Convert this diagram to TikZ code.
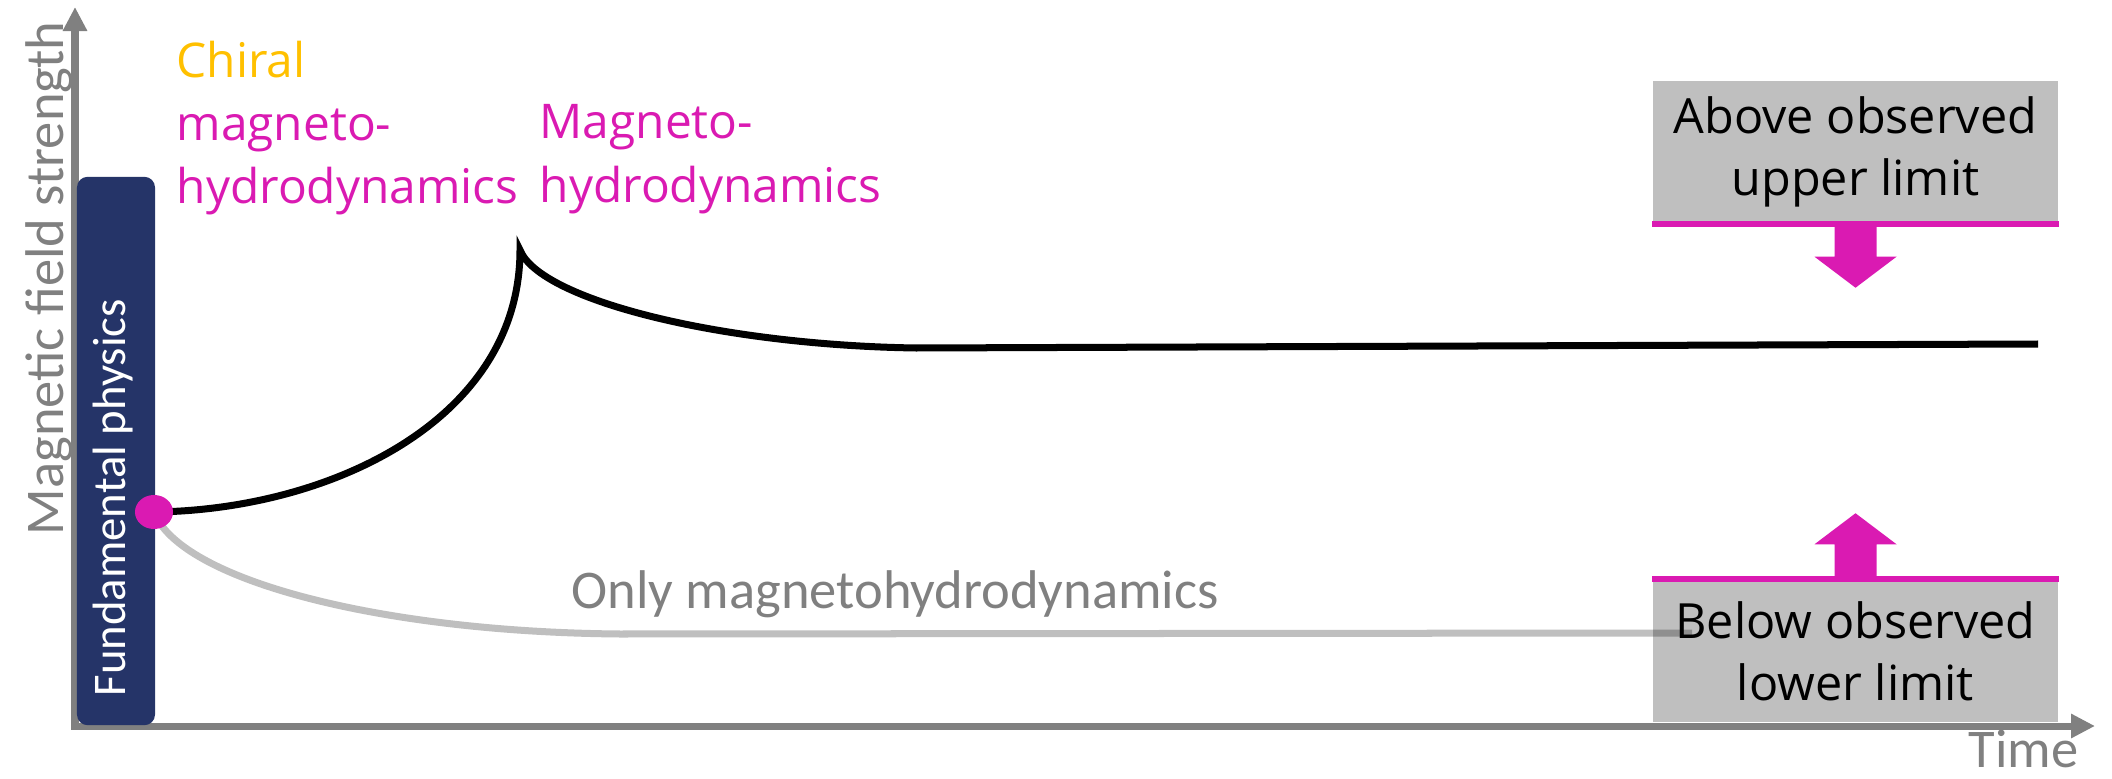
\documentclass[tikz,border=0pt]{standalone}
\usepackage{fontspec}
\setmainfont{Open Sans}
\newfontfamily\calfont{Carlito}
\usetikzlibrary{arrows.meta, shapes.geometric, positioning}
\definecolor{axisgray}{RGB}{128, 128, 128}
\definecolor{fundnavy}{RGB}{37, 52, 104}
\definecolor{mhdpink}{RGB}{218, 26, 178}
\definecolor{chiralgold}{RGB}{255, 192, 0}
\definecolor{limitgray}{RGB}{191, 191, 191}
\tikzset{
  axx/.style       = {line width=0.07cm, axisgray, line join=miter,
                      {Triangle[length=0.24cm, width=0.23cm]}-{Triangle[length=0.24cm, width=0.23cm]}},
  fieldline/.style = {line width=0.07cm, black},
  mhdonly/.style   = {line width=0.07cm, draw=black, draw opacity=0.25},
  limbox/.style    = {rectangle, fill=limitgray, minimum width=4.05cm, minimum height=1.42cm,
                      inner sep=0pt, align=center, font=\fontsize{13.8}{17.6}\selectfont},
  limbar/.style    = {line width=0.06cm, mhdpink},
  limarrow/.style  = {fill=mhdpink},
  phaselbl/.style  = {inner sep=0pt, align=left, text=mhdpink, font=\fontsize{13.6}{18}\selectfont},
  graylbl/.style   = {inner sep=0pt, text=axisgray, font=\calfont\fontsize{15.5}{18}\selectfont},
}

\begin{document}
\begin{tikzpicture}[
    x=0.01cm, y=-0.01cm,
    fund box/.style={rectangle, rounded corners=3pt, fill=fundnavy,
                     minimum width=0.78cm, minimum height=5.48cm, inner sep=0pt},
    fund text/.style={inner sep=0pt, text=white, rotate=90,
                      font=\calfont\fontsize{13.3}{16}\selectfont},
    seed dot/.style={ellipse, fill=mhdpink, minimum width=0.38cm,
                     minimum height=0.34cm, inner sep=0pt},
]
\useasboundingbox (0,0) rectangle (2112,779);

% ==================== axes ====================
\coordinate (O)    at (75, 726);
\coordinate (ytip) at (75, 7);
\coordinate (xtip) at (2095, 726);
\draw[axx] (ytip) -- (O) -- (xtip);

\node[graylbl, rotate=90, anchor=base west] (ylbl) at (63, 536) {Magnetic field strength};
\node[graylbl, anchor=base west] (xlbl) at (1968, 767) {Time};

% ==================== fundamental physics ====================
\node[fund box] (fund) at (116, 451) {};
\node[fund text, anchor=base west] (fundlbl) at (125, 697) {Fundamental physics};

% ==================== observed limits ====================
\node[limbox] (upper) at (1855.5, 152) {Above observed\\upper limit};
\node[limbox] (lower) at (1855.5, 651) {Below observed\\lower limit};

\draw[limbar] (upper.south west) -- (upper.south east);
\draw[limbar] (lower.north west) -- (lower.north east);

\fill[limarrow, shift={(upper.south)}] (-21,0) -- (-21,33) -- (-41,33) -- (0,64)
    -- (41,33) -- (21,33) -- (21,0) -- cycle;
\fill[limarrow, shift={(lower.north)}] (-21,0) -- (-21,-35) -- (-41,-35) -- (0,-66)
    -- (41,-35) -- (21,-35) -- (21,0) -- cycle;

% ==================== field evolution ====================
\coordinate (seedpt) at (154, 512);
\coordinate (cusp)   at (520, 250);
\coordinate (chiend) at (2038, 344);
\coordinate (mhdend) at (1692, 633);

\draw[fieldline] (seedpt) .. controls (330, 510) and (520, 420) .. (cusp)
                 .. controls (540, 300) and (720, 345) .. (916, 348) -- (chiend);
\draw[mhdonly] (seedpt) .. controls (180, 580) and (380, 632) .. (620, 634) -- (mhdend);

\node[seed dot] (seed) at (seedpt) {};

% ==================== labels ====================
\node[phaselbl, anchor=north west] (chmhd) at (176, 40)
    {\textcolor{chiralgold}{Chiral}\\magneto-\\hydrodynamics};
\node[phaselbl, anchor=north west] (mhd) at (539, 104) {Magneto-\\hydrodynamics};
\node[graylbl, anchor=base west] (onlymhd) at (571, 608) {Only magnetohydrodynamics};

\end{tikzpicture}
\end{document}
